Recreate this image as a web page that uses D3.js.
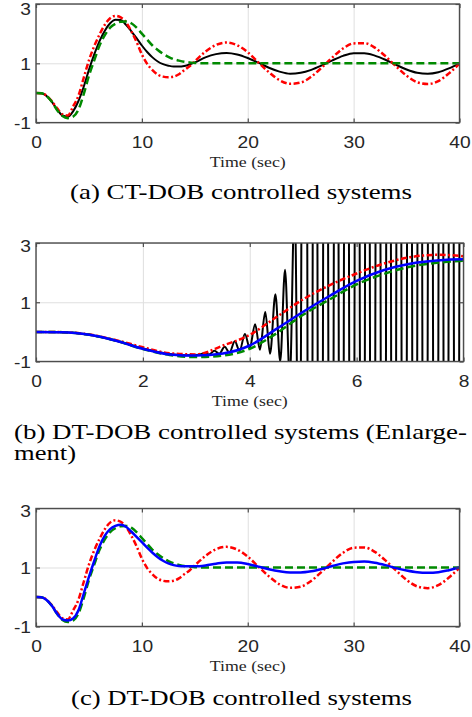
<!DOCTYPE html>
<html><head><meta charset="utf-8">
<script src="https://cdn.jsdelivr.net/npm/d3@7"></script>
<style>html,body{margin:0;padding:0;background:#fff;}svg{display:block;}</style>
</head><body>
<svg id="chart" width="472" height="717"></svg>
<script>
// ---------------- data ----------------
const timeLong = [0,0.5,1,1.5,2,2.5,3,3.5,4,4.5,5,5.5,6,6.5,7,7.5,8,8.5,9,9.5,10,10.5,11,11.5,12,12.5,13,13.5,14,14.5,15,
  16,17,18,19,20,21,22,23,24,25,26,27,28,29,30,31,32,33,34,35,36,37,38,39,40];
// green dashed: nominal response
const greenNominal = [0,-0.01,-0.1,-0.3,-0.58,-0.78,-0.85,-0.8,-0.57,-0.05,0.58,1.1,1.6,1.95,2.2,2.33,2.4,2.41,2.35,2.2,2.0,1.8,1.6,1.45,1.32,1.22,1.14,1.09,1.05,1.03,1.01,
  1,1,1,1,1,1,1,1,1,1,1,1,1,1,1,1,1,1,1,1,1,1,1,1,1];
// red dash-dot
const redValues = [0,-0.01,-0.09,-0.28,-0.52,-0.72,-0.76,-0.46,-0.1,0.5,1.1,1.58,1.97,2.3,2.52,2.6,2.55,2.38,2.08,1.72,1.3,0.98,0.77,0.62,0.55,0.53,0.55,0.63,0.77,0.9,1.07,
  1.39,1.62,1.70,1.61,1.37,1.03,0.70,0.43,0.31,0.35,0.55,0.86,1.20,1.50,1.67,1.68,1.53,1.24,0.90,0.58,0.36,0.30,0.40,0.66,0.99];
// black solid in (a): CT-DOB
const blackCT = [0,-0.01,-0.1,-0.3,-0.56,-0.76,-0.8,-0.62,-0.28,0.2,0.78,1.3,1.75,2.1,2.35,2.47,2.46,2.3,2.08,1.85,1.6,1.38,1.2,1.06,0.97,0.92,0.89,0.89,0.91,0.96,1.03,
  1.20,1.31,1.35,1.30,1.18,1.02,0.85,0.72,0.65,0.68,0.78,0.93,1.10,1.25,1.34,1.34,1.26,1.12,0.95,0.79,0.68,0.65,0.70,0.83,1.0];
// blue solid in (b) and (c): DT-DOB
const blueDT = [0,-0.01,-0.1,-0.3,-0.57,-0.76,-0.8,-0.73,-0.46,0.1,0.68,1.22,1.72,2.08,2.3,2.41,2.45,2.38,2.22,2.04,1.86,1.67,1.5,1.35,1.23,1.14,1.08,1.05,1.04,1.04,1.04,
  1.07,1.13,1.17,1.17,1.12,1.03,0.94,0.87,0.83,0.83,0.87,0.95,1.05,1.14,1.19,1.2,1.16,1.08,0.98,0.9,0.84,0.82,0.84,0.91,1.0];
// black solid in (b): unstable DT-DOB (turning points of the oscillation)
const blackUnstableTime = [0,0.5,1,1.5,2,2.5,2.8,3.05,3.15,3.24,3.34,3.43,3.53,3.62,3.72,3.81,3.91,4.0,4.1,4.19,4.29,4.38,4.48,4.57,4.66,4.75,4.84,4.93,
  5.03,5.13,5.22,5.32,5.42,5.52,5.62,5.71,5.81,5.91,6.01,6.11,6.20,6.30,6.40,6.50,6.60,6.69,6.79,6.89,6.99,7.09,7.18,7.28,7.38,7.48,7.58,7.67,7.77,7.87,7.97,8.07];
const blackUnstable = [0,-0.01,-0.1,-0.3,-0.56,-0.75,-0.79,-0.77,-0.72,-0.76,-0.64,-0.74,-0.5,-0.7,-0.32,-0.64,-0.07,-0.54,0.26,-0.6,0.67,-0.74,1.27,-1.0,2.1,-1.6,4.5,-8,
  30,-30,30,-30,30,-30,30,-30,30,-30,30,-30,30,-30,30,-30,30,-30,30,-30,30,-30,30,-30,30,-30,30,-30,30,-30,30,-30];

const ticksLong = [0,10,20,30,40];
const ticksShort = [0,2,4,6,8];
const ticksY = [-1,1,3];
const xLabel = "Time (sec)";
const captionA = "(a) CT-DOB controlled systems";
const captionB1 = "(b) DT-DOB controlled systems (Enlarge-";
const captionB2 = "ment)";
const captionC = "(c) DT-DOB controlled systems";

// ---------------- drawing ----------------
const svg = d3.select("#chart");
const axisColor = "#4d4d4d", gridColor = "#dfdfdf", textColor = "#262626";
const SX = 1.2; // horizontal stretch of the reference picture
const serif = "'Liberation Serif','DejaVu Serif',serif";
const sans = "'Liberation Sans',Arial,Helvetica,sans-serif";

const panels = [
  {id:"a", x0:36, x1:459.5, y0:4, y1:122.6, dom:[0,40], ticks:ticksLong, topDy:"0.64em",
   series:[
     {t:timeLong, v:blackCT, color:"#000", w:2, dash:null},
     {t:timeLong, v:redValues, color:"#ff0000", w:2.5, dash:"6,2.5,2,2.5"},
     {t:timeLong, v:greenNominal, color:"#008a00", w:2.5, dash:"8,4"}
   ]},
  {id:"b", x0:36, x1:463.5, y0:243, y1:361.5, dom:[0,8], ticks:ticksShort, topDy:"0.52em",
   series:[
     {t:blackUnstableTime, v:blackUnstable, color:"#000", w:2, dash:null},
     {t:timeLong, v:redValues, color:"#ff0000", w:2.5, dash:"6,2.5,2,2.5"},
     {t:timeLong, v:greenNominal, color:"#008a00", w:2.5, dash:"8,4"},
     {t:timeLong, v:blueDT, color:"#0000ff", w:2.5, dash:null}
   ]},
  {id:"c", x0:36, x1:459.5, y0:508.5, y1:626.5, dom:[0,40], ticks:ticksLong, topDy:"0.52em",
   series:[
     {t:timeLong, v:redValues, color:"#ff0000", w:2.5, dash:"6,2.5,2,2.5"},
     {t:timeLong, v:greenNominal, color:"#008a00", w:2.5, dash:"8,4"},
     {t:timeLong, v:blueDT, color:"#0000ff", w:2.5, dash:null}
   ]}
];

panels.forEach(p => {
  const g = svg.append("g");
  const x = d3.scaleLinear().domain(p.dom).range([p.x0, p.x1]);
  const y = d3.scaleLinear().domain([-1, 3]).range([p.y1, p.y0]);
  const h = p.y1 - p.y0, w = p.x1 - p.x0;

  // grid
  const gx = g.append("g").attr("transform", `translate(0,${p.y0})`)
    .call(d3.axisBottom(x).tickValues(p.ticks).tickSize(h).tickFormat(""));
  gx.select(".domain").remove();
  gx.selectAll("line").attr("stroke", gridColor).attr("stroke-width", 1);
  const gy = g.append("g").attr("transform", `translate(${p.x0},0)`)
    .call(d3.axisRight(y).tickValues(ticksY).tickSize(w).tickFormat(""));
  gy.select(".domain").remove();
  gy.selectAll("line").attr("stroke", gridColor).attr("stroke-width", 1);

  // curves
  const clipId = "clip-" + p.id;
  g.append("clipPath").attr("id", clipId).append("rect")
    .attr("x", p.x0).attr("y", p.y0).attr("width", w).attr("height", h);
  const line = d3.line().x(d => x(d[0])).y(d => y(d[1])).curve(d3.curveMonotoneX);
  const cg = g.append("g").attr("clip-path", `url(#${clipId})`);
  p.series.forEach(s => {
    cg.append("path").datum(d3.zip(s.t, s.v))
      .attr("d", line).attr("fill", "none")
      .attr("stroke", s.color).attr("stroke-width", s.w)
      .attr("stroke-linejoin", "round")
      .attr("stroke-dasharray", s.dash);
  });

  // axes with inward ticks
  const fmt = d => String(d);
  const bx = g.append("g").attr("transform", `translate(0,${p.y1})`)
    .call(d3.axisBottom(x).tickValues(p.ticks).tickSizeInner(-4).tickSizeOuter(0).tickFormat(fmt));
  bx.select(".domain").remove();
  bx.selectAll("line").attr("stroke", axisColor).attr("stroke-width", 1.2);
  bx.selectAll("text").attr("y", 25.5).attr("dy", null).attr("transform", `scale(${SX},1)`)
    .attr("fill", textColor).style("font-family", sans).style("font-size", "16px");

  const tx = g.append("g").attr("transform", `translate(0,${p.y0})`)
    .call(d3.axisTop(x).tickValues(p.ticks).tickSizeInner(-4).tickSizeOuter(0).tickFormat(""));
  tx.select(".domain").remove();
  tx.selectAll("line").attr("stroke", axisColor).attr("stroke-width", 1.2);

  const lx = g.append("g").attr("transform", `translate(${p.x0},0)`)
    .call(d3.axisLeft(y).tickValues(ticksY).tickSizeInner(-4).tickSizeOuter(0).tickFormat(fmt));
  lx.select(".domain").remove();
  lx.selectAll("line").attr("stroke", axisColor).attr("stroke-width", 1.2);
  lx.selectAll("text").attr("x", -5 / SX)
    .attr("dy", d => d === 3 ? p.topDy : "0.36em")
    .attr("transform", `scale(${SX},1)`)
    .attr("fill", textColor).style("font-family", sans).style("font-size", "16px");

  const rx = g.append("g").attr("transform", `translate(${p.x1},0)`)
    .call(d3.axisRight(y).tickValues(ticksY).tickSizeInner(-4).tickSizeOuter(0).tickFormat(""));
  rx.select(".domain").remove();
  rx.selectAll("line").attr("stroke", axisColor).attr("stroke-width", 1.2);

  // box
  g.append("rect").attr("x", p.x0).attr("y", p.y0).attr("width", w).attr("height", h)
    .attr("fill", "none").attr("stroke", axisColor).attr("stroke-width", 1.4);

  // x label
  g.append("text").attr("x", (p.x0 + p.x1) / 2).attr("y", p.y1 + 44.5)
    .attr("text-anchor", "middle").attr("fill", textColor)
    .attr("textLength", 76).attr("lengthAdjust", "spacingAndGlyphs")
    .style("font-family", serif).style("font-size", "15.5px").text(xLabel);
});

// captions
function caption(str, x, y, len) {
  svg.append("text").attr("x", x).attr("y", y).attr("fill", "#000")
    .attr("textLength", len).attr("lengthAdjust", "spacingAndGlyphs")
    .style("font-family", serif).style("font-size", "21.5px").text(str);
}
caption(captionA, 70, 198.5, 342);
caption(captionB1, 14, 438.7, 453);
caption(captionB2, 14, 460.3, 62);
caption(captionC, 71, 704.7, 341);
</script>
</body></html>
